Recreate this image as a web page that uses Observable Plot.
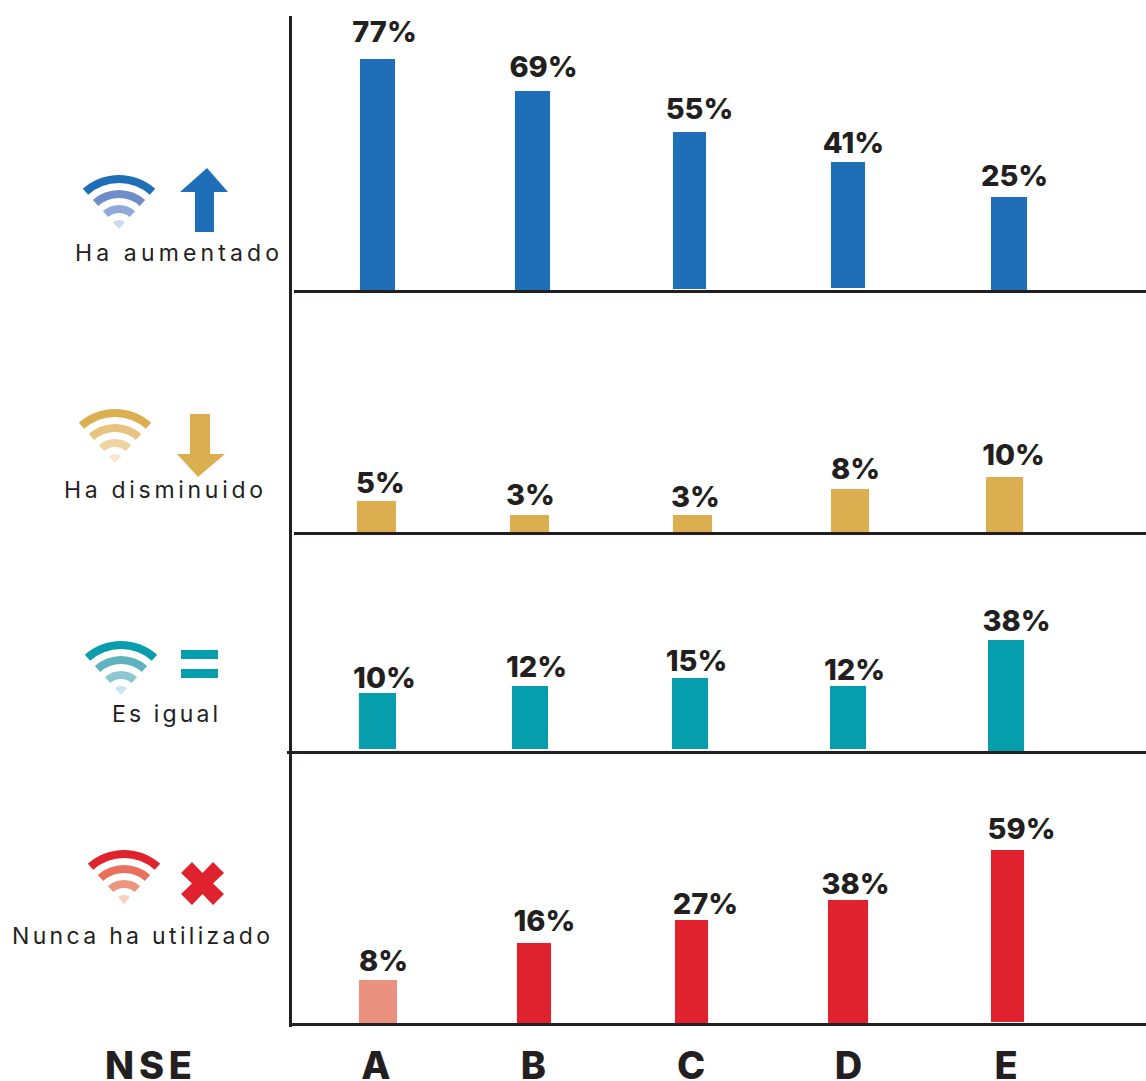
<!DOCTYPE html>
<html><head><meta charset="utf-8">
<script src="https://cdn.jsdelivr.net/npm/d3@7"></script>
<script src="https://cdn.jsdelivr.net/npm/@observablehq/plot@0.6"></script>
<style>html,body{margin:0;padding:0;background:#fff}svg{display:block}</style>
</head><body><div id="chart"></div>
<script>
const categories = ["A","B","C","D","E"];
const aumentado = [77,69,55,41,25];
const disminuido = [5,3,3,8,10];
const igual = [10,12,15,12,38];
const nunca = [8,16,27,38,59];
const INK = "#231f20", FONT = "Inter, 'DejaVu Sans', sans-serif";

// Each row of the source is drawn to its own, non-proportional vertical scale.
const panels = [
 {name:"Ha aumentado", values:aumentado, color:"#1e6fb8", top:0, base:292, marginLeft:294, marginTop:17,
  yDomain:[0,25,41,55,69,77], yPx:[0,95,130,160,201,233],
  barDx:[.5,-2,-2.5,-1.5,2], barW:[35,35,33,34,36], barLift:[0,0,3,4,0],
  labelDx:[7,8.5,7,3.5,7], labelDy:[-18,-15,-14,-10,-12],
  arcs:["#1e6fb8","#6f8ec9","#8fa9d8","#cfdaef"], apex:[119,229], text:[75,261,204]},
 {name:"Ha disminuido", values:disminuido, color:"#dbae50", top:292, base:534, marginLeft:294, marginTop:0,
  yDomain:[0,3,5,8,10], yPx:[0,19,33,45,57],
  barDx:[-.5,-5,.5,.5,-2.5], barW:[39,39,39,38,37], barLift:[0,0,0,0,0],
  labelDx:[3,-4.5,3,5.5,6], labelDy:[-9,-11,-9,-11,-13],
  arcs:["#dbae50","#e6c37f","#efd3a0","#f6e8cd"], apex:[115,463], text:[64,498,199]},
 {name:"Es igual", values:igual, color:"#069dad", top:534, base:753, marginLeft:287, marginTop:0,
  yDomain:[0,10,12,15,38], yPx:[0,60,67,75,113],
  barDx:[.5,-4.5,-2,-1.5,-1], barW:[37,36,36,36,36], barLift:[4,4,4,4,0],
  labelDx:[7,1.5,4,4.5,9], labelDy:[-6,-10,-8,-7,-10],
  arcs:["#069dad","#5fb3c1","#8cc8d2","#cce5ea"], apex:[121,695], text:[112,722,106]},
 {name:"Nunca ha utilizado", values:nunca, color:"#e0222e", top:753, base:1025, marginLeft:290, marginTop:0,
  yDomain:[0,8,16,27,38,59], yPx:[0,45,82,105,125,175],
  barDx:[1,-.5,-.5,-1.5,.5], barW:[38,34,33,40,33], barLift:[0,1,2,2,3],
  labelDx:[6,9.5,13,5.5,14], labelDy:[-10,-13,-7,-7,-12],
  arcs:["#e0222e","#e8705c","#ee9580","#facfc2"], apex:[124,904], text:[12,944,258]}
];
const AXIS_LEFT = 290.5;
const SHAPES = [
 {fill:"#1e6fb8", d:"M207 168L228 192H214V232H195V192H180Z"},
 {fill:"#dbae50", d:"M190 414H210V454H225L198 477L177 454H190Z"},
 {fill:"#069dad", d:"M181 650H218V659H181ZM181 669H218V678H181Z"},
 {fill:"#e0222e", d:"M181 873L192 862L202.500 873L213 862L224 873L213 883.500L224 894L213 905L202.500 894L192 905L181 894L192 883.500Z"}
];
const RADII = [[46,54],[31,39],[16,24],[0,9]];
const SWEEP = 42 * Math.PI / 180;

function decoration(p, i){
  return () => {
    const g = d3.create("svg:g").attr("transform", `translate(0,${-p.top})`).attr("text-anchor","start");
    RADII.forEach(([r0,r1],k) => {
      g.append("path")
       .attr("d", d3.arc()({innerRadius:r0,outerRadius:r1,startAngle:-SWEEP,endAngle:SWEEP}))
       .attr("transform", `translate(${p.apex[0]},${p.apex[1]})`)
       .attr("fill", p.arcs[k]);
    });
    g.append("path").attr("d", SHAPES[i].d).attr("fill", SHAPES[i].fill);
    g.append("text").text(p.name)
     .attr("x", p.text[0]).attr("y", p.text[1])
     .attr("textLength", p.text[2]).attr("lengthAdjust","spacing")
     .attr("font-family", FONT).attr("font-size", 23).attr("fill", INK);
    if (i === 3) {
      g.append("text").text("NSE")
       .attr("x",105).attr("y",1079).attr("textLength",87).attr("lengthAdjust","spacing")
       .attr("font-family", FONT).attr("font-size",38).attr("font-weight",800).attr("fill",INK);
    }
    return g.node();
  };
}

const root = document.getElementById("chart");
panels.forEach((p,i) => {
  const last = i === panels.length-1;
  const marginBottom = last ? 56 : 0;
  const height = p.base - p.top + marginBottom;
  const bottom = height - marginBottom;
  const marks = [decoration(p,i)];
  categories.forEach((c,k) => {
    const d = [{c, v:p.values[k]}];
    const inset = (36-p.barW[k])/2;
    marks.push(Plot.barY(d,{x:"c",y:"v",dx:p.barDx[k],insetLeft:inset,insetRight:inset,insetBottom:p.barLift[k],
      fill: (last && k===0) ? "#ea917f" : p.color}));
    marks.push(Plot.text(d,{x:"c",y:"v",text:v=>v.v+"%",dx:p.labelDx[k],dy:p.labelDy[k],lineAnchor:"bottom",
      fontSize:29,fontWeight:800,fontFamily:FONT,fill:INK}));
  });
  marks.push(Plot.ruleY([0],{stroke:INK,strokeWidth:3,dy:-1}));
  marks.push(Plot.frame({anchor:"left",stroke:INK,strokeWidth:3,dx:AXIS_LEFT-p.marginLeft-0.5}));
  if (last) marks.push(Plot.axisX({tickSize:0,tickPadding:27,dx:-1.5,fontSize:38,fontWeight:800,fontFamily:FONT,fill:INK,label:null}));
  root.append(Plot.plot({
    width:1146, height,
    marginTop:p.marginTop, marginBottom, marginLeft:p.marginLeft, marginRight:0,
    style:{background:"transparent",overflow:"visible",fontFamily:FONT},
    x:{type:"band",domain:categories,range:[237.5,1146.5],padding:.771,round:false,axis:null},
    y:{type:"linear",domain:p.yDomain,range:p.yPx.map(h=>bottom-h),axis:null},
    marks
  }));
});
</script></body></html>
